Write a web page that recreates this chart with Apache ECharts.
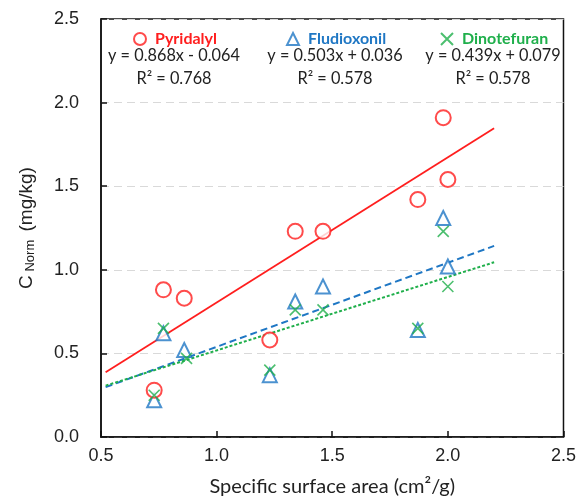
<!DOCTYPE html>
<html><head><meta charset="utf-8">
<script src="https://cdn.jsdelivr.net/npm/echarts@6/dist/echarts.min.js"></script>
<style>html,body{margin:0;padding:0;background:#fff}#c{width:579px;height:504px}</style>
</head><body><div id="c"></div>
<script>
// ---- data ----
const seriesNames = ['Pyridalyl', 'Fludioxonil', 'Dinotefuran'];
const pyrX = [0.73, 0.77, 0.86, 1.23, 1.34, 1.46, 1.87, 1.98, 2.00];
const pyrY = [0.28, 0.88, 0.83, 0.58, 1.23, 1.23, 1.42, 1.91, 1.54];
const fluX = [0.73, 0.77, 0.86, 1.23, 1.34, 1.46, 1.87, 1.98, 2.00];
const fluY = [0.22, 0.62, 0.52, 0.37, 0.81, 0.90, 0.64, 1.31, 1.02];
const dinX = [0.73, 0.77, 0.87, 1.23, 1.34, 1.46, 1.87, 1.98, 2.00];
const dinY = [0.25, 0.65, 0.47, 0.40, 0.76, 0.76, 0.65, 1.23, 0.90];
// trend line end points (x, y)
const pyrTrendX = [0.52, 2.2];
const pyrTrendY = [0.387, 1.846];
const fluTrendX = [0.52, 2.2];
const fluTrendY = [0.298, 1.143];
const dinTrendX = [0.52, 2.2];
const dinTrendY = [0.307, 1.045];
const equations = ['y = 0.868x - 0.064', 'y = 0.503x + 0.036', 'y = 0.439x + 0.079'];
const r2Labels = ['R² = 0.768', 'R² = 0.578', 'R² = 0.578'];
const xTicks = [0.5, 1.0, 1.5, 2.0, 2.5];
const yTicks = [0.0, 0.5, 1.0, 1.5, 2.0, 2.5];

const colors = ['#FF1E1E', '#1F77C4', '#1FAF4B'];
const zip = (a, b) => a.map((v, i) => [v, b[i]]);
const crossPath = 'path://M0,0L10,10M10,0L0,10';

const chart = echarts.init(document.getElementById('c'), null, {renderer: 'canvas'});
const legendCenters = [174, 335, 493];
const legendLefts = [128, 281, 435];
const sym = ['emptyCircle', 'emptyTriangle', crossPath];

const option = {
  animation: false,
  backgroundColor: '#fff',
  grid: {left: 101, right: 10, top: 19, bottom: 67, show: true, borderColor: '#111', borderWidth: 1.5, backgroundColor: 'transparent'},
  xAxis: {
    type: 'value', min: 0.5, max: 2.5, interval: 0.5,
    name: 'Specific surface area (cm²/g)', nameLocation: 'middle', nameGap: 40,
    nameTextStyle: {fontFamily: 'Lato', fontSize: 20, color: '#222'},
    axisLine: {show: true, lineStyle: {color: '#111', width: 1.5}},
    axisTick: {show: true, inside: true, length: 6, lineStyle: {color: '#111', width: 1.5}},
    axisLabel: {fontFamily: 'Liberation Sans', fontSize: 18, color: '#222', margin: 10,
      formatter: v => v.toFixed(1)},
    splitLine: {show: false}
  },
  yAxis: {
    type: 'value', min: 0, max: 2.5, interval: 0.5,
    name: '{a|C}{b| Norm}{a| (mg/kg)}', nameLocation: 'middle', nameGap: 64, nameRotate: 90,
    nameTextStyle: {
      rich: {
        a: {fontFamily: 'Liberation Sans', fontSize: 19, color: '#222'},
        b: {fontFamily: 'Liberation Sans', fontSize: 13, color: '#222', padding: [8, 3, 0, 0]}
      }
    },
    axisLine: {show: true, lineStyle: {color: '#111', width: 1.5}},
    axisTick: {show: true, inside: true, length: 6, lineStyle: {color: '#111', width: 1.5}},
    axisLabel: {fontFamily: 'Liberation Sans', fontSize: 18, color: '#222', margin: 22,
      formatter: v => v.toFixed(1)},
    splitLine: {show: true, lineStyle: {color: '#d9d9d9', type: [8, 5], width: 1.2}}
  },
  legend: seriesNames.map((n, i) => ({
    data: [n], top: 26, left: legendLefts[i], itemWidth: 12, itemHeight: 12, itemGap: 10,
    textStyle: {fontFamily: 'Lato', fontWeight: 'bold', fontSize: 16, color: colors[i], padding: [0, 0, 0, 4]},
    selectedMode: false
  })),
  graphic: [].concat(
    equations.map((t, i) => ({type: 'text', x: legendCenters[i], y: 48,
      style: {text: t, fontFamily: 'Lato', fontSize: 16.3, fill: '#222', textAlign: 'center'}})),
    r2Labels.map((t, i) => ({type: 'text', x: legendCenters[i], y: 71,
      style: {text: t, fontFamily: 'Lato', fontSize: 16.3, fill: '#222', textAlign: 'center'}}))
  ),
  series: [
    {name: seriesNames[0], type: 'scatter', data: zip(pyrX, pyrY), symbol: sym[0], symbolSize: 15,
      itemStyle: {color: colors[0], borderColor: colors[0], borderWidth: 1.6}, z: 5},
    {name: seriesNames[1], type: 'scatter', data: zip(fluX, fluY), symbol: sym[1], symbolSize: 14,
      itemStyle: {color: colors[1], borderColor: colors[1], borderWidth: 1.6}, z: 4},
    {name: seriesNames[2], type: 'scatter', data: zip(dinX, dinY), symbol: sym[2], symbolSize: 11,
      itemStyle: {color: 'rgba(0,0,0,0)', borderColor: colors[2], borderWidth: 1.6}, z: 6},
    {type: 'line', data: zip(pyrTrendX, pyrTrendY), showSymbol: false, symbol: 'none', silent: true,
      lineStyle: {color: colors[0], width: 1.8, type: 'solid'}, z: 3},
    {type: 'line', data: zip(fluTrendX, fluTrendY), showSymbol: false, symbol: 'none', silent: true,
      lineStyle: {color: colors[1], width: 2, type: [7, 4]}, z: 3},
    {type: 'line', data: zip(dinTrendX, dinTrendY), showSymbol: false, symbol: 'none', silent: true,
      lineStyle: {color: colors[2], width: 2, type: [3, 2]}, z: 3}
  ]
};
chart.setOption(option);
</script></body></html>
